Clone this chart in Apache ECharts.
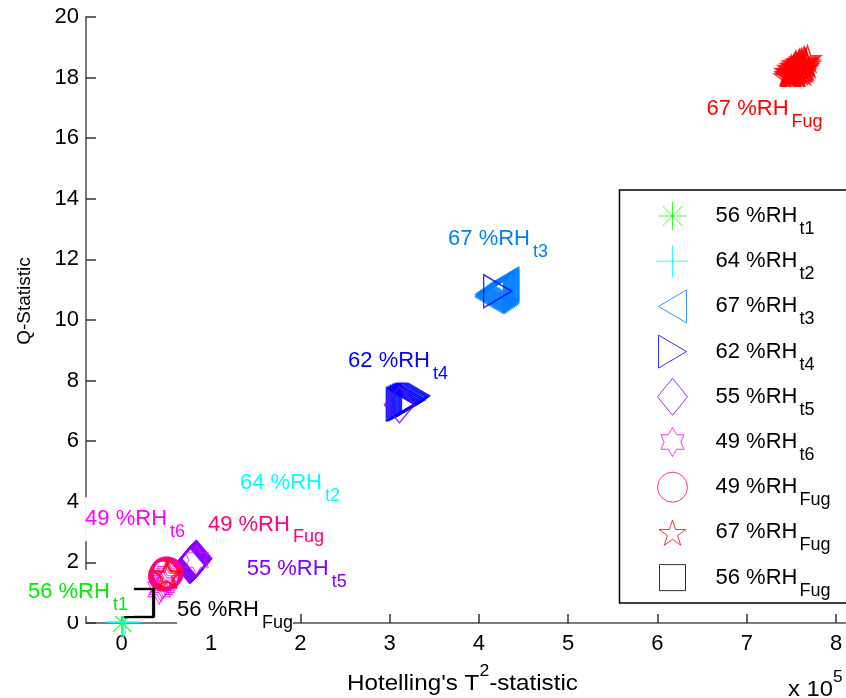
<!DOCTYPE html>
<html><head><meta charset="utf-8">
<script src="https://cdn.jsdelivr.net/npm/echarts@6/dist/echarts.min.js"></script>
<style>html,body{margin:0;padding:0;background:#fff}#c{width:846px;height:698px}</style>
</head><body><div id="c"></div>
<script>
// ---------- data ----------
const seriesMain = ['56 %RH','64 %RH','67 %RH','62 %RH','55 %RH','49 %RH','49 %RH','67 %RH','56 %RH'];
const seriesSub  = ['t1','t2','t3','t4','t5','t6','Fug','Fug','Fug'];
const xTickValues = [0,1,2,3,4,5,6,7,8];

const rh56t1 = [[0.00,0.00],[0.01,0.01]];
const rh64t2 = [[0.00,0.03],[0.02,0.02],[0.04,0.03]];
const rh67t3 = [[4.12,10.76],[4.12,10.84],[4.13,10.80],[4.14,10.78],[4.14,10.88],[4.15,10.84],[4.16,10.82],[4.16,10.92],[4.17,10.88],[4.18,10.86],[4.18,10.96],[4.19,10.92],[4.20,10.90],[4.20,11.00],[4.21,10.96],[4.22,10.94],[4.22,11.04],[4.23,11.00],[4.24,10.98],[4.24,11.08],[4.25,11.04],[4.26,11.02],[4.26,11.12],[4.27,11.08],[4.28,11.06],[4.28,11.16],[4.29,11.12],[4.29,11.20]];
const rh62t4 = [[3.12,7.21],[3.13,7.24],[3.14,7.22],[3.15,7.27],[3.16,7.25],[3.17,7.30],[3.18,7.28],[3.19,7.33],[3.20,7.31],[3.21,7.36],[3.22,7.34],[3.23,7.39],[3.24,7.37],[3.25,7.42],[3.26,7.44],[3.27,7.46],[3.28,7.48],[3.29,7.50],[4.21,10.95]];
const rh55t5 = [[0.76,1.90],[0.765,1.92],[0.77,1.93],[0.775,1.94],[0.78,1.95],[0.785,1.97],[0.79,1.98],[0.795,2.00],[0.80,2.01],[0.805,2.03],[0.81,2.04],[0.815,2.06],[0.82,2.07],[0.825,2.09],[0.83,2.10],[0.835,2.12],[0.84,2.13],[3.11,7.20]];
const rh49t6 = [[0.42,1.10],[0.44,1.18],[0.46,1.25],[0.47,1.32],[0.49,1.40],[0.50,1.47],[0.52,1.55],[0.53,1.62],[0.84,2.08]];
const rh49Fug = [[0.47,1.55],[0.475,1.56],[0.48,1.58],[0.485,1.59],[0.49,1.60],[0.495,1.61],[0.50,1.62],[0.505,1.63],[0.51,1.64],[0.515,1.65],[0.52,1.66],[0.50,1.68],[0.49,1.66]];
const rh67Fug = [[7.46,18.02],[7.47,18.08],[7.48,18.10],[7.49,18.05],[7.49,18.16],[7.50,18.18],[7.51,18.10],[7.52,18.12],[7.52,18.24],[7.53,18.25],[7.54,18.16],[7.55,18.20],[7.55,18.38],[7.56,18.32],[7.56,18.12],[7.57,18.28],[7.58,18.44],[7.58,18.22],[7.59,18.40],[7.60,18.35],[7.60,18.26],[7.61,18.52],[7.62,18.47],[7.62,18.20],[7.63,18.42],[7.63,18.30],[7.64,18.58],[7.65,18.55],[7.65,18.36],[7.66,18.50],[7.67,18.44],[7.68,18.62],[7.55,18.45],[7.50,18.30],[7.64,18.30],[7.53,18.36],[7.47,18.20],[7.59,18.50],[0.50,1.62],[0.52,1.58]];
const rh56Fug = [[0.19,0.64],[0.195,0.65],[0.20,0.66],[0.205,0.67],[0.21,0.68]];

// annotation labels (anchor = left edge / vertical centre of the label box, in data units)
const annMain = ['67 %RH','67 %RH','62 %RH','64 %RH','49 %RH','49 %RH','55 %RH','56 %RH','56 %RH'];
const annSub  = ['Fug','t3','t4','t2','t6','Fug','t5','t1','Fug'];
const annX    = [6.55,3.655,2.535,1.325,-0.41,0.966,1.40,-1.05,0.62];
const annY    = [16.96,12.66,8.66,4.62,3.42,3.25,1.77,0.99,0.43];

// ---------- styles ----------
const FONT = 'Liberation Sans, Arial, Helvetica, sans-serif';
const ASTERISK = 'path://M0,-1L0,1M-1,0L1,0M-0.7,-0.7L0.7,0.7M-0.7,0.7L0.7,-0.7';
const PLUS = 'path://M0,-1L0,1M-1,0L1,0';
const LEFTTRI = 'path://M28,0L0,16.5L28,33Z';
const RIGHTTRI = 'path://M0,0L28,16.5L0,33Z';
const HEXA = 'path://M0,-1L-0.2887,-0.5L-0.866,-0.5L-0.5774,0L-0.866,0.5L-0.2887,0.5L0,1L0.2887,0.5L0.866,0.5L0.5774,0L0.866,-0.5L0.2887,-0.5Z';
const PENTA = 'path://M0,-1L-0.2245,-0.309L-0.9511,-0.309L-0.3633,0.118L-0.5878,0.809L0,0.382L0.5878,0.809L0.3633,0.118L0.9511,-0.309L0.2245,-0.309Z';
// legend icons drawn inside a fixed 32x37 frame (frame corners are invisible zero-length segments)
const FR = 'M0,0L0,0M32,37L32,37';
const legendIcons = [
  'path://'+FR+'M16,4.5L16,32.5M2,18.5L30,18.5M6.1,8.6L25.9,28.4M6.1,28.4L25.9,8.6',
  'path://'+FR+'M16,2.5L16,34.5M0,18.5L32,18.5',
  'path://'+FR+'M30,2L2,18.5L30,35Z',
  'path://'+FR+'M2,2L30,18.5L2,35Z',
  'path://'+FR+'M16,0L31,18.5L16,37L1,18.5Z',
  'path://'+FR+'M16,4L11.81,11.25L4.5,11.25L7.63,18.5L4.5,25.75L11.81,25.75L16,33L20.19,25.75L27.5,25.75L24.37,18.5L27.5,11.25L20.19,11.25Z',
  'path://'+FR+'M31,18.5A15,15,0,1,1,1,18.5A15,15,0,1,1,31,18.5Z',
  'path://'+FR+'M16,6L12.86,15.67L2.68,15.67L10.91,21.65L7.77,31.33L16,25.35L24.23,31.33L21.09,21.65L29.32,15.67L19.14,15.67Z',
  'path://'+FR+'M3,5.5L29,5.5L29,31.5L3,31.5Z'
];
const seriesData = [rh56t1, rh64t2, rh67t3, rh62t4, rh55t5, rh49t6, rh49Fug, rh67Fug, rh56Fug];
const seriesStyle = [
  {color:'#00FF00', symbol:ASTERISK, size:[26,26], lw:1},
  {color:'#00FFFF', symbol:PLUS, size:[32,32], lw:1.2},
  {color:'#0080FF', symbol:LEFTTRI, size:[28,33], lw:1.5},
  {color:'#0000FF', symbol:RIGHTTRI, size:[28,33], lw:1.5},
  {color:'#8000FF', symbol:'diamond', size:[30,36], lw:1.5},
  {color:'#FF00FF', symbol:HEXA, size:[23,29], lw:1},
  {color:'#FF0080', symbol:'circle', size:[30,30], lw:1.5},
  {color:'#FF0000', symbol:PENTA, size:[27,26], lw:1.5},
  {color:'#000000', symbol:'rect', size:[28,28], lw:1.5}
];
const annColor = ['#FF0000','#0080FF','#0000FF','#00FFFF','#FF00FF','#FF0080','#8000FF','#00EE00','#000000'];
const annPad = [0,0,0,0,0,0,0,[0,6,2,0],0];

const names = seriesMain.map((m,i)=>m+'|'+seriesSub[i]);
const series = seriesData.map((d,i)=>({
  type:'scatter', name:names[i], data:d,
  symbol:seriesStyle[i].symbol, symbolSize:seriesStyle[i].size,
  itemStyle:{color:'rgba(0,0,0,0)', borderColor:seriesStyle[i].color, borderWidth:seriesStyle[i].lw},
  clip:false, silent:true, emphasis:{disabled:true}, z:2
}));

const chart = echarts.init(document.getElementById('c'), null, {renderer:'canvas'});
chart.setOption({
  animation:false,
  backgroundColor:'#fff',
  grid:{left:86, top:17, width:759, height:606, containLabel:false},
  xAxis:{type:'value', min:-0.4, max:8.1,
    axisLine:{show:true, onZero:false, lineStyle:{color:'#7a7a7a', width:2}},
    axisTick:{show:true, inside:true, length:9, customValues:xTickValues, lineStyle:{color:'#333', width:1.5}},
    axisLabel:{customValues:xTickValues, margin:10, color:'#000', fontSize:22, fontFamily:FONT},
    splitLine:{show:false}},
  yAxis:{type:'value', min:0, max:20, interval:2,
    axisLine:{show:true, onZero:false, lineStyle:{color:'#7a7a7a', width:2}},
    axisTick:{show:true, inside:true, length:10, lineStyle:{color:'#333', width:1.5}},
    axisLabel:{margin:7, color:'#000', fontSize:22, fontFamily:FONT},
    splitLine:{show:false}},
  legend:{orient:'vertical', left:656, top:197, padding:0, itemWidth:32, itemHeight:37, itemGap:4.2,
    selectedMode:false, z:10,
    data:names.map((n,i)=>({name:n, icon:legendIcons[i]})),
    itemStyle:{borderWidth:1},
    formatter:function(n){const p=n.split('|'); return '{m|'+p[0]+'}{s|'+p[1]+'}';},
    textStyle:{color:'#000', fontFamily:FONT,
      rich:{m:{fontSize:22, lineHeight:44, verticalAlign:'middle', padding:[0,0,0,22], color:'#000', fontFamily:FONT},
            s:{fontSize:18, lineHeight:20, verticalAlign:'bottom', padding:[0,0,0,2], color:'#000', fontFamily:FONT}}}},
  series:series
});

const graphics = [];
graphics.push({type:'rect', z:1, shape:{x:619.5, y:190, width:260, height:413},
  style:{fill:'#fff', stroke:'#000', lineWidth:1.5}});
annMain.forEach((m,i)=>{
  const p = chart.convertToPixel({gridIndex:0}, [annX[i], annY[i]]);
  graphics.push({type:'text', z:100, x:p[0], y:p[1], style:{
    text:'{m|'+m+'}{s|'+annSub[i]+'}', align:'left', verticalAlign:'middle',
    fill:annColor[i], backgroundColor:'#fff', padding:annPad[i],
    rich:{m:{fontSize:22, lineHeight:44, verticalAlign:'middle', fontFamily:FONT, fill:annColor[i]},
          s:{fontSize:18, lineHeight:20, verticalAlign:'bottom', padding:[0,0,0,3], fontFamily:FONT, fill:annColor[i]}}}});
});
graphics.push({type:'text', z:100, x:25, y:301, rotation:Math.PI/2, style:{
  text:'Q-Statistic', align:'center', verticalAlign:'middle', fill:'#000', fontSize:19, fontFamily:FONT}});
graphics.push({type:'text', z:100, x:347, y:684, scaleX:1.1, style:{
  text:"{m|Hotelling's T}{p|2}{m|-statistic}", align:'left', verticalAlign:'middle', fill:'#000',
  rich:{m:{fontSize:22, lineHeight:40, verticalAlign:'middle', fontFamily:FONT, fill:'#000'},
        p:{fontSize:16, lineHeight:11, verticalAlign:'top', fontFamily:FONT, fill:'#000'}}}});
graphics.push({type:'text', z:100, x:788, y:690, scaleX:1.08, style:{
  text:'{m|x 10}{p|5}', align:'left', verticalAlign:'middle', fill:'#000',
  rich:{m:{fontSize:22, lineHeight:40, verticalAlign:'middle', fontFamily:FONT, fill:'#000'},
        p:{fontSize:16, lineHeight:8, verticalAlign:'top', fontFamily:FONT, fill:'#000'}}}});
chart.setOption({graphic:{elements:graphics}});
</script></body></html>
